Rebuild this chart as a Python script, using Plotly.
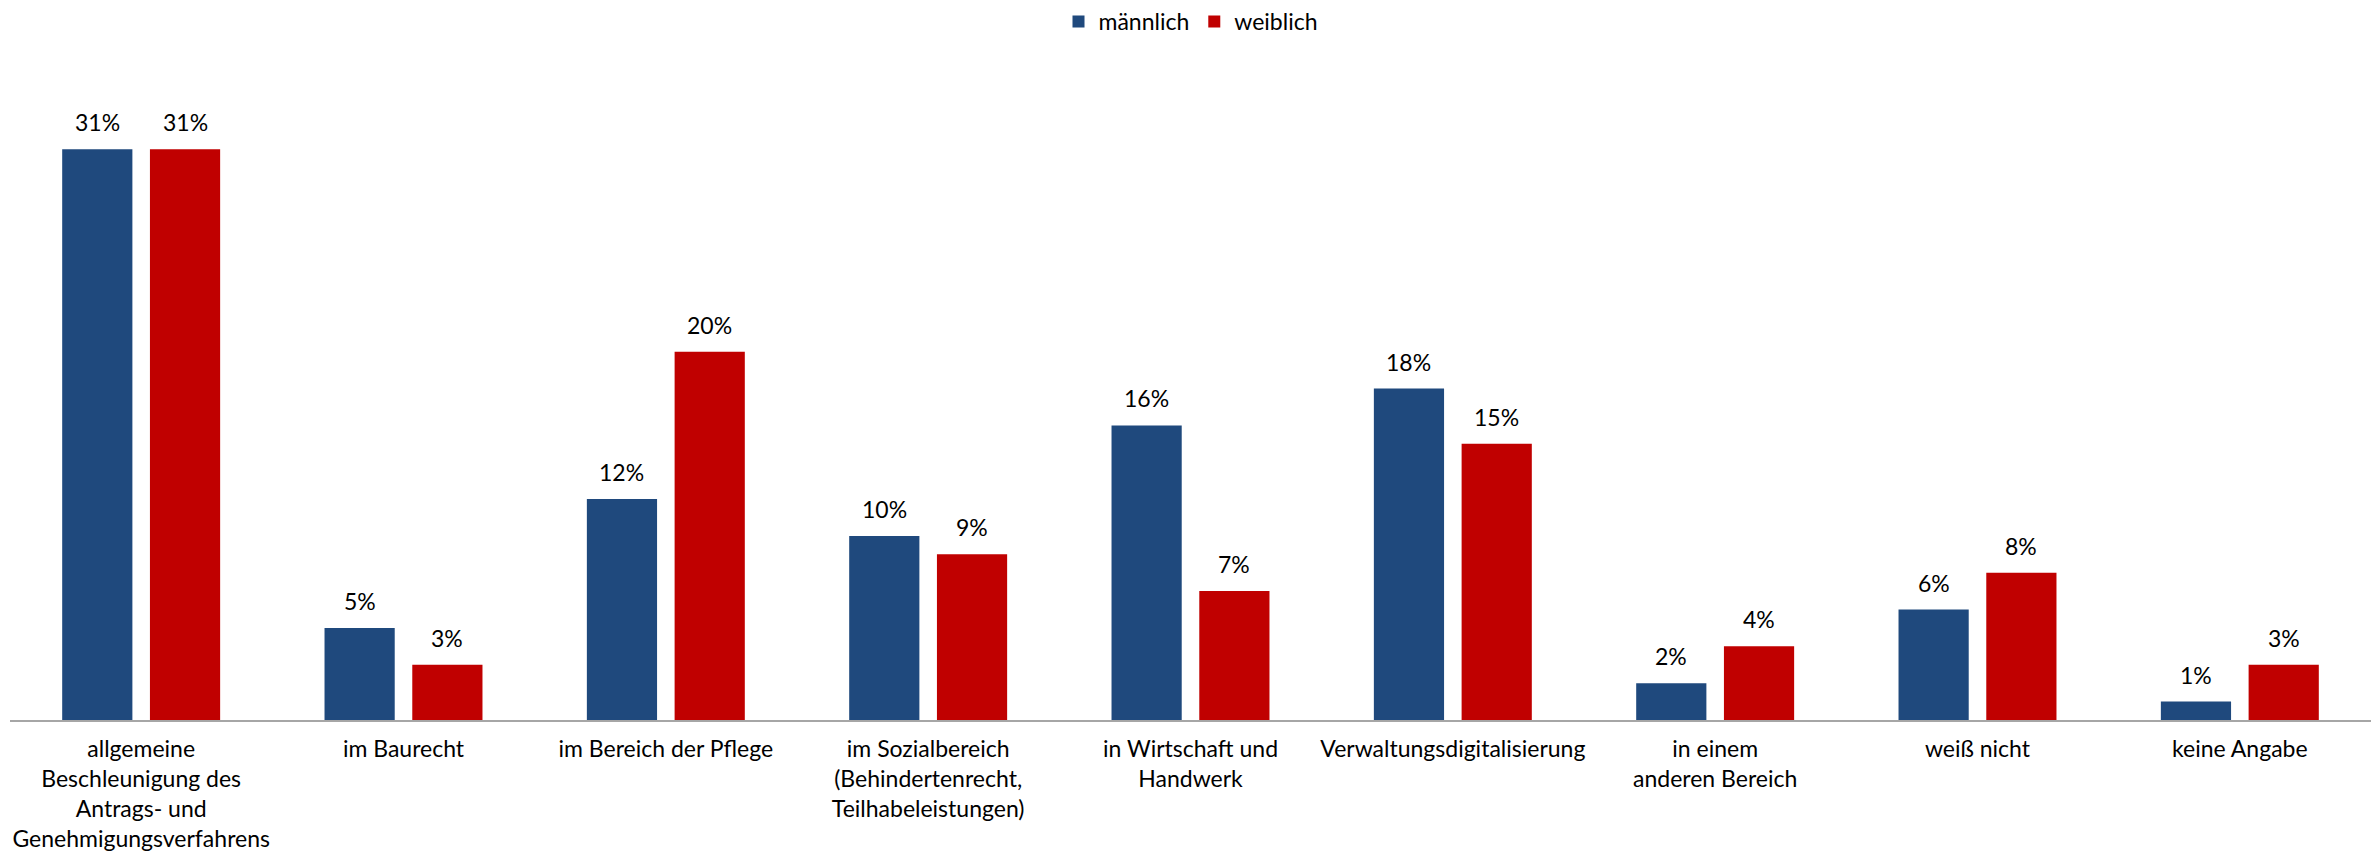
import plotly.graph_objects as go

# Kategorien (x-Achse)
categories = [
    "allgemeine<br>Beschleunigung des<br>Antrags- und<br>Genehmigungsverfahrens",
    "im Baurecht",
    "im Bereich der Pflege",
    "im Sozialbereich<br>(Behindertenrecht,<br>Teilhabeleistungen)",
    "in Wirtschaft und<br>Handwerk",
    "Verwaltungsdigitalisierung",
    "in einem<br>anderen Bereich",
    "weiß nicht",
    "keine Angabe",
]

# Anteile in Prozent
maennlich = [31, 5, 12, 10, 16, 18, 2, 6, 1]
weiblich = [31, 3, 20, 9, 7, 15, 4, 8, 3]

series_names = ["männlich", "weiblich"]
colors = ["#1F497D", "#C00000"]

FONT = "Lato"
FS = 23

fig = go.Figure()
for name, vals, col in zip(series_names, [maennlich, weiblich], colors):
    fig.add_trace(go.Bar(
        x=categories, y=vals, name=name,
        marker=dict(color=col, line=dict(width=0)),
    ))

# Wertebeschriftungen über den Balken
plot_w = 2379 - 10 - 8
cat_w = plot_w / len(categories)
bargap = 0.331
slot = cat_w * (1 - bargap) / 2
for offs, vals in zip([-slot / 2, slot / 2], [maennlich, weiblich]):
    for c, v in zip(categories, vals):
        fig.add_annotation(
            x=c, y=v, xref="x", yref="y", text=f"{v}%",
            showarrow=False, yanchor="bottom", xshift=offs, yshift=11,
            font=dict(family=FONT, size=FS, color="#000000"),
        )

fig.update_layout(
    width=2379, height=851,
    margin=dict(l=10, r=8, t=94, b=131),
    paper_bgcolor="white", plot_bgcolor="white",
    barmode="group", bargap=bargap, bargroupgap=0.2,
    font=dict(family=FONT, size=FS, color="#000000"),
    legend=dict(
        orientation="h", x=0.5, xanchor="center", y=1.0, yref="container",
        yanchor="top", font=dict(family=FONT, size=FS),
        itemwidth=30, traceorder="normal",
    ),
    xaxis=dict(
        showline=True, linecolor="#A6A6A6", linewidth=1.5,
        ticks="", showgrid=False, tickfont=dict(family=FONT, size=FS),
        ticklabelstandoff=8, automargin=False,
    ),
    yaxis=dict(
        range=[0, 34], visible=False, showgrid=False, zeroline=False,
        automargin=False,
    ),
)

fig.write_html("out.html")
